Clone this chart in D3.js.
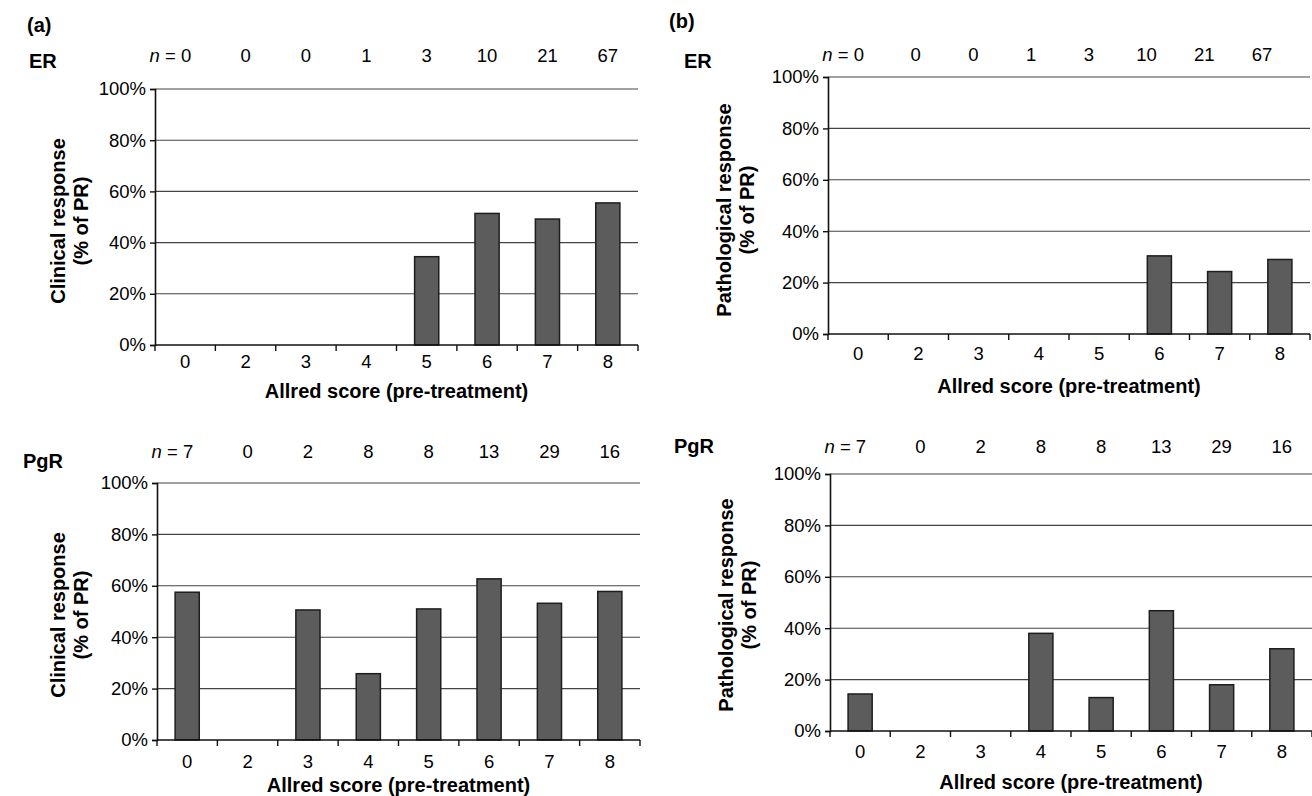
<!DOCTYPE html>
<html>
<head>
<meta charset="utf-8">
<script src="https://cdn.jsdelivr.net/npm/d3@7"></script>
<style>
  html, body { margin: 0; padding: 0; background: #fff; }
  svg { display: block; font-family: "Liberation Sans", Arial, sans-serif; }
</style>
</head>
<body>
<div id="chart"></div>
<script>
const scores = ["0", "2", "3", "4", "5", "6", "7", "8"];
const yTicks = [0, 20, 40, 60, 80, 100];

const erCounts = [0, 0, 0, 1, 3, 10, 21, 67];
const pgrCounts = [7, 0, 2, 8, 8, 13, 29, 16];

const erClinical = [0, 0, 0, 0, 34.5, 51.4, 49.2, 55.5];
const pgrClinical = [57.5, 0, 50.6, 25.8, 51, 62.7, 53.2, 57.8];
const erPathological = [0, 0, 0, 0, 0, 30.4, 24.3, 29];
const pgrPathological = [14.4, 0, 0, 38, 13, 46.8, 18, 32];

const width = 1312;
const height = 796;

const svg = d3
  .select("#chart")
  .append("svg")
  .attr("width", width)
  .attr("height", height)
  .attr("viewBox", `0 0 ${width} ${height}`);

// panel layouts: plot box plus where the labels sit
const panels = [
  {
    letter: "(a)", letterX: 27, letterY: 32,
    marker: "ER", markerX: 29, markerY: 68,
    counts: erCounts, values: erClinical,
    yTitle: ["Clinical response", "(% of PR)"], yTitleX: 65, yTitleY: 221,
    left: 155, right: 638, top: 89, bottom: 345,
    nY: 62, nRange: null, tickY: 368, xTitleY: 398,
  },
  {
    letter: "(b)", letterX: 669, letterY: 28,
    marker: "ER", markerX: 684, markerY: 68,
    counts: erCounts, values: erPathological,
    yTitle: ["Pathological response", "(% of PR)"], yTitleX: 731, yTitleY: 210,
    left: 828, right: 1310, top: 77, bottom: 334,
    nY: 61, nRange: [858, 1262], tickY: 360, xTitleY: 393,
  },
  {
    letter: null,
    marker: "PgR", markerX: 23, markerY: 468,
    counts: pgrCounts, values: pgrClinical,
    yTitle: ["Clinical response", "(% of PR)"], yTitleX: 65, yTitleY: 615,
    left: 157, right: 640, top: 483, bottom: 740,
    nY: 458, nRange: null, tickY: 768, xTitleY: 792,
  },
  {
    letter: null,
    marker: "PgR", markerX: 674, markerY: 453,
    counts: pgrCounts, values: pgrPathological,
    yTitle: ["Pathological response", "(% of PR)"], yTitleX: 733, yTitleY: 605,
    left: 830, right: 1312, top: 474, bottom: 731,
    nY: 453, nRange: null, tickY: 758, xTitleY: 789,
  },
];

panels.forEach(drawPanel);

function drawPanel(p) {
  const g = svg.append("g");

  const x = d3
    .scaleBand()
    .domain(scores)
    .range([p.left, p.right])
    .paddingInner(0.6)
    .paddingOuter(0.3);

  const y = d3.scaleLinear().domain([0, 100]).range([p.bottom, p.top]);

  // gridlines
  g.append("g")
    .selectAll("line")
    .data(yTicks.filter((t) => t > 0))
    .join("line")
    .attr("x1", p.left)
    .attr("x2", p.right)
    .attr("y1", (d) => y(d))
    .attr("y2", (d) => y(d))
    .attr("stroke", "#444")
    .attr("stroke-width", 1.1);

  // bars
  g.append("g")
    .selectAll("rect")
    .data(p.values.map((v, i) => ({ score: scores[i], value: v })))
    .join("rect")
    .attr("x", (d) => x(d.score))
    .attr("width", x.bandwidth())
    .attr("y", (d) => y(d.value))
    .attr("height", (d) => y(0) - y(d.value))
    .attr("fill", "#5c5c5c")
    .attr("stroke", "#1e1e1e")
    .attr("stroke-width", 1.5)
    .attr("display", (d) => (d.value > 0 ? null : "none"));

  // y axis
  const yAxis = g
    .append("g")
    .attr("transform", `translate(${p.left},0)`)
    .call(
      d3
        .axisLeft(y)
        .tickValues(yTicks)
        .tickFormat((d) => d + "%")
        .tickSize(5)
        .tickPadding(4),
    );
  yAxis.select(".domain").attr("stroke", "#111").attr("stroke-width", 1.6);
  yAxis.selectAll(".tick line").attr("stroke", "#111").attr("stroke-width", 1.4);
  yAxis
    .selectAll(".tick text")
    .attr("font-size", 18.5)
    .attr("fill", "#000")
    .attr("font-family", "'Liberation Sans', Arial, sans-serif");

  // x axis: ticks sit on band boundaries
  const step = x.step();
  const boundaries = d3.range(scores.length + 1).map((i) => p.left + i * step);
  g.append("line")
    .attr("x1", p.left)
    .attr("x2", p.right)
    .attr("y1", p.bottom)
    .attr("y2", p.bottom)
    .attr("stroke", "#111")
    .attr("stroke-width", 1.6);
  g.append("g")
    .selectAll("line")
    .data(boundaries)
    .join("line")
    .attr("x1", (d) => d)
    .attr("x2", (d) => d)
    .attr("y1", p.bottom)
    .attr("y2", p.bottom + 6)
    .attr("stroke", "#111")
    .attr("stroke-width", 1.4);

  g.append("g")
    .selectAll("text")
    .data(scores)
    .join("text")
    .attr("x", (d) => x(d) + x.bandwidth() / 2)
    .attr("y", p.tickY)
    .attr("text-anchor", "middle")
    .attr("font-size", 18.5)
    .attr("fill", "#000")
    .text((d) => d);

  g.append("text")
    .attr("x", (p.left + p.right) / 2)
    .attr("y", p.xTitleY)
    .attr("text-anchor", "middle")
    .attr("font-size", 20)
    .attr("font-weight", "bold")
    .attr("fill", "#000")
    .text("Allred score (pre-treatment)");

  // y title, two lines, rotated
  const yt = g
    .append("text")
    .attr("transform", `translate(${p.yTitleX},${p.yTitleY}) rotate(-90)`)
    .attr("text-anchor", "middle")
    .attr("font-size", 20)
    .attr("font-weight", "bold")
    .attr("fill", "#000");
  yt.append("tspan").attr("x", 0).attr("dy", 0).text(p.yTitle[0]);
  yt.append("tspan").attr("x", 0).attr("dy", 23).text(p.yTitle[1]);

  // n counts above the plot
  const nX = p.nRange
    ? d3.scalePoint().domain(scores).range(p.nRange)
    : (d) => x(d) + x.bandwidth() / 2;

  const nLabels = g
    .append("g")
    .selectAll("text")
    .data(p.counts.map((c, i) => ({ score: scores[i], count: c, first: i === 0 })))
    .join("text")
    .attr("x", (d) => nX(d.score) + (d.first ? 6 : 0))
    .attr("y", p.nY)
    .attr("text-anchor", (d) => (d.first ? "end" : "middle"))
    .attr("font-size", 18.5)
    .attr("fill", "#000");
  nLabels
    .filter((d) => d.first)
    .append("tspan")
    .attr("font-style", "italic")
    .text("n");
  nLabels
    .append("tspan")
    .text((d) => (d.first ? " = " + d.count : d.count));

  g.append("text")
    .attr("x", p.markerX)
    .attr("y", p.markerY)
    .attr("font-size", 20)
    .attr("font-weight", "bold")
    .attr("fill", "#000")
    .text(p.marker);

  if (p.letter) {
    g.append("text")
      .attr("x", p.letterX)
      .attr("y", p.letterY)
      .attr("font-size", 20)
      .attr("font-weight", "bold")
      .attr("fill", "#000")
      .text(p.letter);
  }
}
</script>
</body>
</html>
